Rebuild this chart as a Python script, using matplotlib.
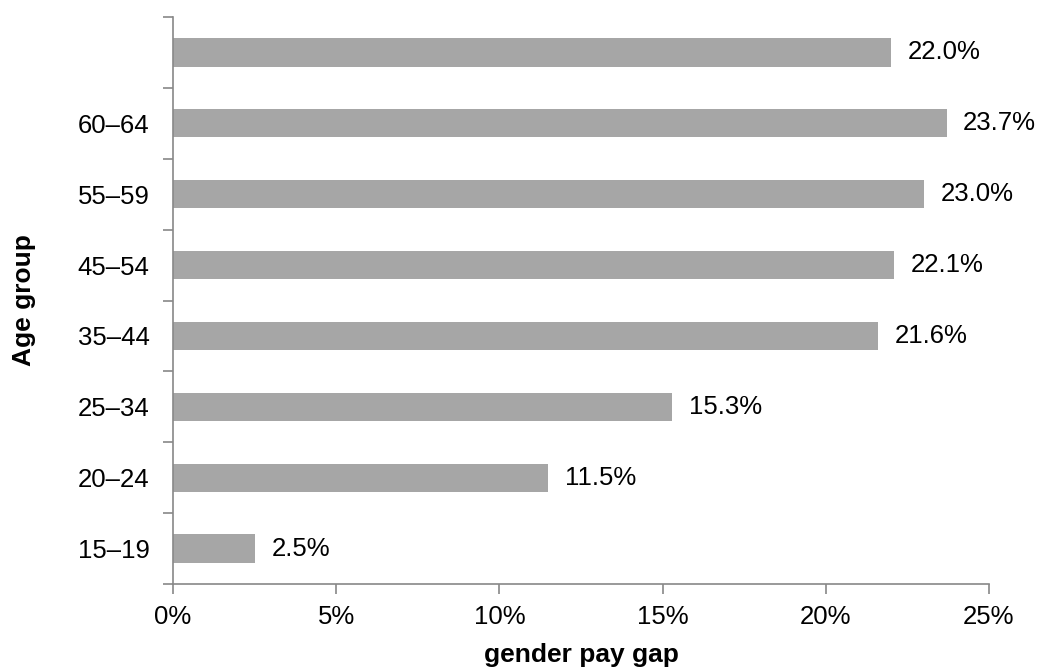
import numpy as np
import matplotlib.pyplot as plt
from matplotlib.ticker import FixedLocator, PercentFormatter

plt.rcParams['font.family'] = ['Liberation Sans', 'DejaVu Sans']

# data, bottom to top
age_groups = ['15–19', '20–24', '25–34', '35–44', '45–54', '55–59', '60–64', '']
pay_gap = [2.5, 11.5, 15.3, 21.6, 22.1, 23.0, 23.7, 22.0]

fs = 18.5

fig = plt.figure(figsize=(10.41, 6.69), dpi=100)
ax = fig.add_axes([0.1662, 0.127, 0.7838, 0.8476])

y = np.arange(len(age_groups))
ax.barh(y, pay_gap, height=0.4, color='#a6a6a6')

for yi, v in zip(y, pay_gap):
    ax.annotate(f'{v:.1f}%', (v, yi), xytext=(12, 0), textcoords='offset points',
                va='center', ha='left', fontsize=fs)

ax.set_xlim(0, 25)
ax.set_ylim(-0.5, len(age_groups) - 0.5)
ax.set_xticks([0, 5, 10, 15, 20, 25])
ax.xaxis.set_major_formatter(PercentFormatter(decimals=0))

# category labels at centres, tick marks on boundaries
ax.set_yticks(y)
ax.set_yticklabels(age_groups)
ax.yaxis.set_minor_locator(FixedLocator(np.arange(-0.5, len(age_groups), 1)))
ax.tick_params(axis='y', which='major', length=0, pad=17, labelsize=fs)
ax.tick_params(axis='y', which='minor', length=7, color='#888888', width=1.2)
ax.tick_params(axis='x', length=7, color='#888888', width=1.2, labelsize=fs, pad=8)

for s in ['top', 'right']:
    ax.spines[s].set_visible(False)
for s in ['left', 'bottom']:
    ax.spines[s].set_color('#888888')
    ax.spines[s].set_linewidth(1.2)

ax.set_xlabel('gender pay gap', fontsize=19, fontweight='bold', labelpad=10)
ax.set_ylabel('Age group', fontsize=19, fontweight='bold', labelpad=30)

fig.savefig('out.png', dpi=100)
